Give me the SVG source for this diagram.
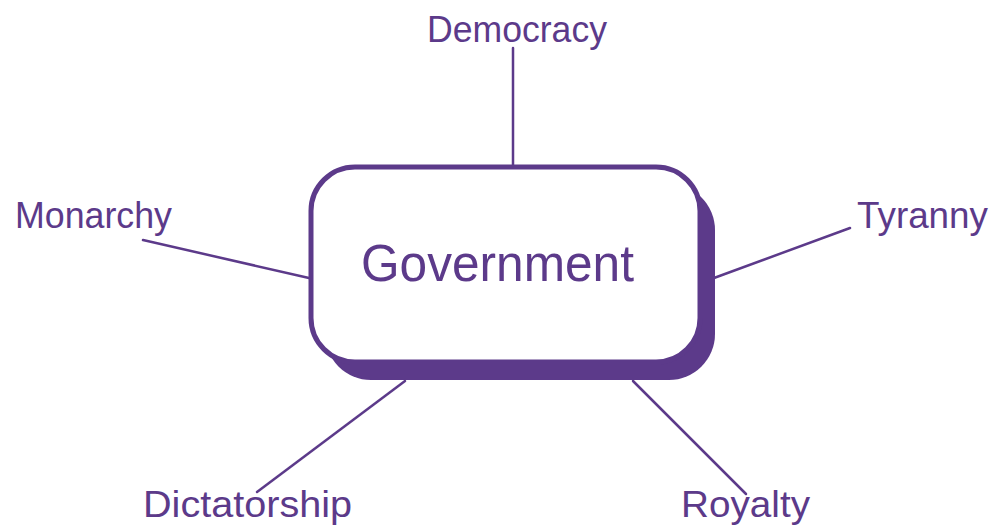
<svg xmlns="http://www.w3.org/2000/svg" width="994" height="527" viewBox="0 0 994 527">
<style>
.lbl{font-family:"Liberation Sans","DejaVu Sans",sans-serif;font-size:36px;fill:#5c3a8a}
.ctr{font-family:"Liberation Sans","DejaVu Sans",sans-serif;font-size:52px;fill:#5c3a8a}
.conn line{stroke:#5c3a8a;stroke-width:2.5;stroke-linecap:round}
</style>
<rect width="994" height="527" fill="#ffffff"/>
<g id="connectors" class="conn">
<line x1="513" y1="48" x2="513" y2="166"/>
<line x1="143" y1="240" x2="309" y2="278"/>
<line x1="714" y1="278" x2="850" y2="228"/>
<line x1="405" y1="381" x2="257" y2="492"/>
<line x1="633" y1="381" x2="746" y2="494"/>
</g>
<g id="government">
<rect x="325" y="184" width="390" height="196" rx="46" fill="#5c3a8a"/>
<rect x="311" y="167" width="389" height="195" rx="44" fill="#ffffff" stroke="#5c3a8a" stroke-width="5"/>
<text class="ctr" x="361" y="281" textLength="273" lengthAdjust="spacingAndGlyphs">Government</text>
</g>
<g id="democracy"><text class="lbl" x="427" y="42" textLength="180" lengthAdjust="spacingAndGlyphs">Democracy</text></g>
<g id="monarchy"><text class="lbl" x="15" y="228" textLength="157" lengthAdjust="spacingAndGlyphs">Monarchy</text></g>
<g id="tyranny"><text class="lbl" x="857" y="228" textLength="131" lengthAdjust="spacingAndGlyphs">Tyranny</text></g>
<g id="dictatorship"><text class="lbl" x="143" y="517" textLength="209" lengthAdjust="spacingAndGlyphs">Dictatorship</text></g>
<g id="royalty"><text class="lbl" x="681" y="517" textLength="129" lengthAdjust="spacingAndGlyphs">Royalty</text></g>
</svg>
